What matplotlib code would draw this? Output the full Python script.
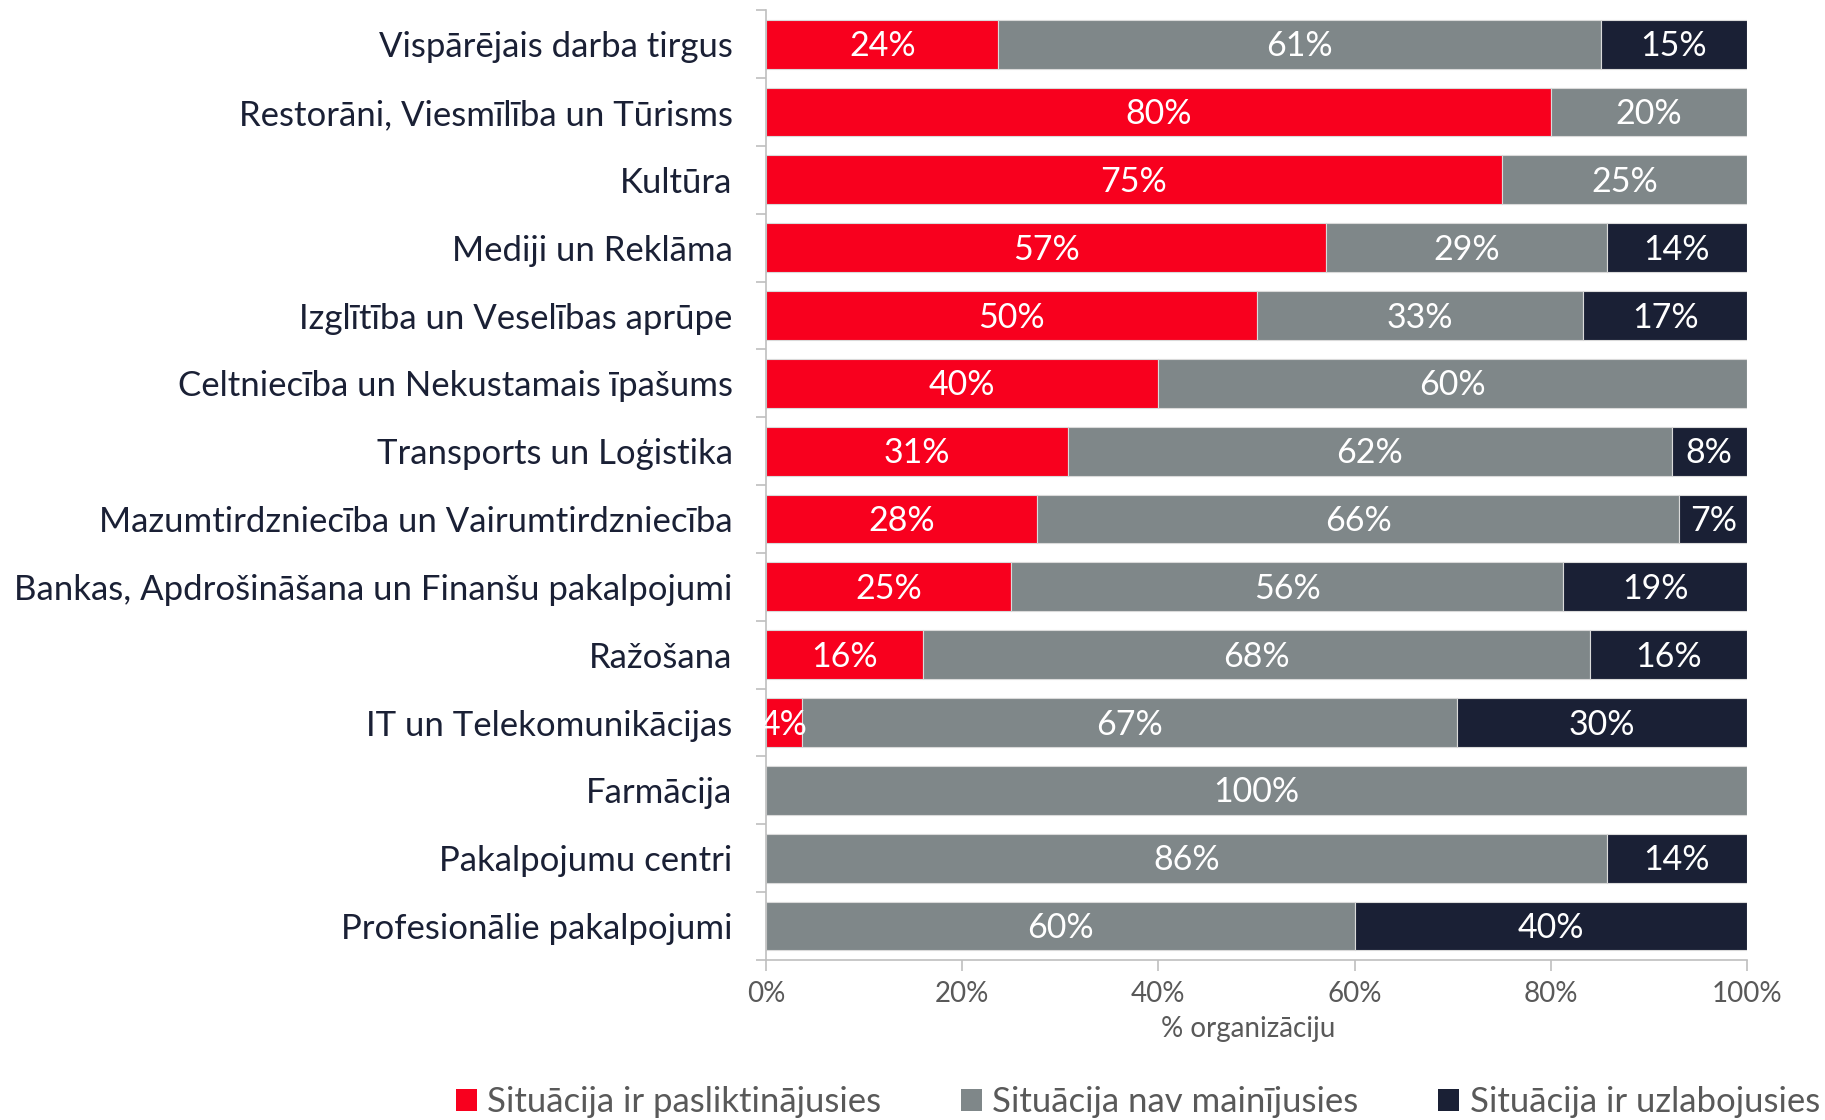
import matplotlib
matplotlib.use("Agg")
import matplotlib.pyplot as plt
from matplotlib.patches import Patch

plt.rcParams['font.family'] = ['Lato', 'DejaVu Sans']

categories = [
    "Vispārējais darba tirgus",
    "Restorāni, Viesmīlība un Tūrisms",
    "Kultūra",
    "Mediji un Reklāma",
    "Izglītība un Veselības aprūpe",
    "Celtniecība un Nekustamais īpašums",
    "Transports un Loģistika",
    "Mazumtirdzniecība un Vairumtirdzniecība",
    "Bankas, Apdrošināšana un Finanšu pakalpojumi",
    "Ražošana",
    "IT un Telekomunikācijas",
    "Farmācija",
    "Pakalpojumu centri",
    "Profesionālie pakalpojumi",
]
worse = [23.7, 80.0, 75.0, 57.1, 50.0, 40.0, 30.8, 27.6, 25.0, 16.0, 3.7, 0.0, 0.0, 0.0]
same = [61.4, 20.0, 25.0, 28.6, 33.3, 60.0, 61.5, 65.5, 56.25, 68.0, 66.7, 100.0, 85.7, 60.0]
better = [14.9, 0.0, 0.0, 14.3, 16.7, 0.0, 7.7, 6.9, 18.75, 16.0, 29.6, 0.0, 14.3, 40.0]
series_names = ["Situācija ir pasliktinājusies", "Situācija nav mainījusies", "Situācija ir uzlabojusies"]
xticks = [0, 20, 40, 60, 80, 100]
xlabel = "% organizāciju"

colors = ["#F8001E", "#7F8789", "#1A2035"]
fig = plt.figure(figsize=(18.25, 11.2), dpi=100)
ax = fig.add_axes([0.4197, 0.1429, 0.5376, 0.8479])

y = list(range(len(categories)))
left = [0.0] * len(categories)
for vals, col in zip([worse, same, better], colors):
    ax.barh(y, vals, left=left, height=0.72, color=col,
            edgecolor="#DADADA", linewidth=0.8, zorder=2)
    for yi, l, v in zip(y, left, vals):
        if v > 0:
            ax.text(l + v / 2, yi + 0.03, f"{round(v):d}%", ha="center", va="center",
                    color="white", fontsize=24.5, zorder=3)
    left = [a + b for a, b in zip(left, vals)]

ax.set_xlim(0, 100)
ax.set_ylim(len(categories) - 0.5, -0.5)
ax.set_xticks(xticks)
ax.set_xticklabels([f"{t}%" for t in xticks], fontsize=20, color="#595959")
ax.set_xlabel(xlabel, fontsize=20, color="#595959")
ax.xaxis.set_label_coords(0.492, -0.059)

ax.set_yticks(y)
ax.set_yticklabels(categories, fontsize=25, color="#1A2035")
ax.tick_params(axis="y", length=0, pad=24)
ax.set_yticks([i - 0.5 for i in range(len(categories) + 1)], minor=True)
ax.tick_params(axis="y", which="minor", length=7, color="#BFBFBF", width=1.2)
ax.tick_params(axis="x", length=8, color="#BFBFBF", width=1.2, pad=7)

for s in ["top", "right"]:
    ax.spines[s].set_visible(False)
for s in ["left", "bottom"]:
    ax.spines[s].set_color("#BFBFBF")
    ax.spines[s].set_linewidth(1.2)

handles = [Patch(facecolor=c, edgecolor="none") for c in colors]
fig.legend(handles, series_names, loc="center", bbox_to_anchor=(0.6235, 0.016),
           ncol=3, frameon=False, fontsize=25, labelcolor="#595959",
           handlelength=0.6, handleheight=0.6, handletextpad=0.3, columnspacing=2.3)

fig.savefig("out.png", dpi=100)
